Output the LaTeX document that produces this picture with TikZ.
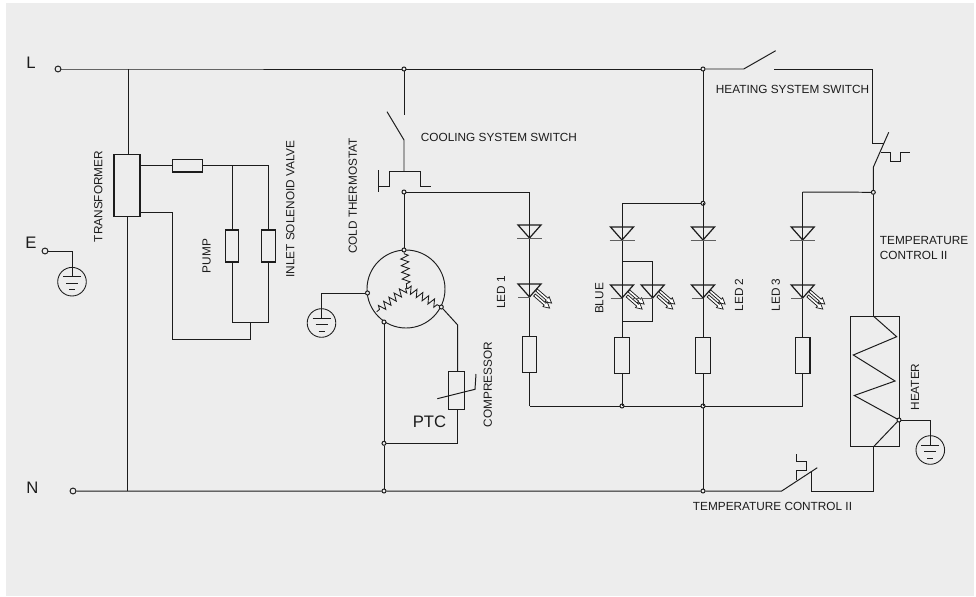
\documentclass[tikz,border=0pt]{standalone}
\usepackage{fontspec}
\setmainfont{Liberation Sans}
\usetikzlibrary{decorations.pathmorphing}
\definecolor{panelc}{HTML}{EDEDED}
\definecolor{inkc}{HTML}{1C1C1C}
\tikzset{
    wire/.style={draw=inkc, line width=0.74pt},
    term/.style={circle, draw=inkc, fill=panelc, line width=0.74pt, inner sep=0pt, minimum size=4.4pt},
    junc/.style={circle, draw=inkc, fill=panelc, line width=0.74pt, inner sep=0pt, minimum size=3pt},
    res/.style={rectangle, draw=inkc, line width=0.9pt, inner sep=0pt},
    vres/.style={res, minimum width=11pt, minimum height=27pt},
    txt/.style={text=inkc, font=\fontsize{8.85pt}{11.5pt}\selectfont, inner sep=0pt},
    big/.style={text=inkc, font=\fontsize{12.5pt}{14pt}\selectfont, inner sep=0pt},
    coil/.style={wire, line width=0.65pt, decorate, decoration={zigzag, segment length=5pt, amplitude=2.9pt, pre length=1pt, post length=1pt}},
    earth/.pic={
        \draw[wire, line width=0.65pt] (0,0) circle[radius=14.3];
        \draw[wire] (-9,-5) -- (9,-5);
        \draw[wire, line width=0.6pt] (-6,1.5) -- (6,1.5);
        \draw[wire, line width=0.6pt] (-3,8) -- (3,8);
    },
    diode/.pic={
        \draw[wire, line width=0.9pt] (-11.5,-13) -- (11.5,-13) -- (0,0) -- cycle;
        \draw[wire, draw=inkc!70] (-12.5,0) -- (12.5,0);
    },
    led/.pic={
        \draw[wire, line width=0.9pt] (-11.5,-13) -- (11.5,-13) -- (0,0) -- cycle;
        \draw[wire, draw=inkc!70] (-11.5,0) -- (0,0);
        \foreach \ax/\ay in {7/-7, 5/-2} {
            \draw[wire, line width=0.55pt, fill=white, shift={(\ax,\ay)}, rotate=-41]
                (0,-1.3) -- (14,-1.3) -- (14,-3.2) -- (20,0) -- (14,3.2) -- (14,1.3) -- (0,1.3) -- cycle;
        }
    },
}
\begin{document}
\begin{tikzpicture}[x=0.75pt, y=-0.75pt]
        \useasboundingbox (0,0) rectangle (976,597);
        \fill[panelc] (6,3) rectangle (974,596);

        % mains side
        \node[term] (L) at (58,69) {};
        \node[term] (E) at (45,251) {};
        \node[term] (N) at (73,491) {};
        \node[big] (Ltext) at (31,63) {L};
        \node[big] (Etext) at (31,243) {E};
        \node[big] (Ntext) at (32.5,488) {N};

        \coordinate (jT) at (128,69);
        \coordinate (jB) at (127.5,491);
        \node[junc] (jcool) at (404,69) {};
        \node[junc] (jled) at (703,69) {};
        \node[junc] (jblue) at (703,203.3) {};
        \node[junc] (jheat) at (873.3,192.3) {};
        \node[junc] (jmotor) at (404,192) {};
        \node[junc] (jcomp) at (384,491) {};
        \node[junc] (jret) at (703,491) {};
        \node[junc] (jbar) at (703,406) {};
        \node[junc] (jbarb) at (622,406) {};

        % transformer, pump and valve
        \node[res, minimum width=19.5pt, minimum height=47pt] (transformer) at (127,185.5) {};
        \node[res, minimum width=23pt, minimum height=9.5pt] (fuse) at (187.5,165.7) {};
        \node[vres, minimum width=10pt, minimum height=24pt] (pump) at (232,246) {};
        \node[vres, minimum width=10pt, minimum height=24pt] (valve) at (268.5,246) {};
        \coordinate (pt) at (232,165.7);
        \coordinate (vt) at (268.5,165.7);
        \coordinate (pb) at (232,322.5);
        \coordinate (vb) at (268.5,322.5);
        \coordinate (mid) at (250,322.5);
        \coordinate (low) at (172,339);
        \coordinate (txout) at (140,212.7);

        \draw[wire] (L) -- (jT) -- (jcool) -- (jled);
        \draw[wire] (jT) -- (128,154);
        \draw[wire] (127.5,217) -- (jB);
        \draw[wire] (140,165.7) -- (fuse.west);
        \draw[wire] (fuse.east) -- (vt) -- (valve.north);
        \draw[wire] (pt) -- (pump.north);
        \draw[wire] (pump.south) -- (pb) -- (vb) -- (valve.south);
        \draw[wire] (mid) |- (low) |- (txout);

        \coordinate (Ea) at (72,251);
        \coordinate (Eb) at (72,276.7);
        \draw[wire] (E) -- (Ea) -- (Eb);
        \pic at (72,281.7) {earth};

        % cooling branch
        \coordinate (swa) at (404,115);
        \coordinate (swb) at (404,140);
        \coordinate (swc) at (387,111.7);
        \coordinate (swd) at (404,171);
        \draw[wire] (jcool) -- (swa);
        \draw[wire] (swc) -- (swb) -- (swd);
        \draw[wire] (378,170) -- (378,192);
        \draw[wire] (378,186.7) -- (389,186.7) -- (389,171) -- (420,171) -- (420,186.7) -- (431,186.7);

        % compressor
        \node[circle, wire, line width=0.7pt, minimum size=58.5pt, inner sep=0pt] (motor) at (406,289) {};
        \node[junc] (mtop) at (404,250) {};
        \node[junc] (mleft) at (367.5,293) {};
        \node[junc] (mlow) at (384,322) {};
        \node[junc] (mright) at (441.3,307) {};
        \node[junc] (jptc) at (384,443.3) {};
        \coordinate (star) at (406.7,288);
        \draw[wire] (jmotor) -- (mtop);
        \draw[coil] (mtop) -- (star);
        \draw[coil] (star) -- (376.7,311.7);
        \draw[coil] (star) -- (mright);

        \node[vres, minimum width=11.5pt, minimum height=28pt] (ptc) at (456.5,390.5) {};
        \coordinate (ptca) at (457.7,325);
        \coordinate (ptcb) at (457.7,443.3);
        \draw[wire] (mlow) -- (jptc) -- (jcomp);
        \draw[wire] (mright) -- (ptca) -- (ptc.north -| ptca);
        \draw[wire] (ptc.south -| ptcb) -- (ptcb) -- (jptc);
        \draw[wire] (437.3,398.7) -- (475,389.3) -- (476,374);

        \coordinate (ma) at (321.5,293);
        \draw[wire] (mleft) -- (ma) -- (321.5,318);
        \pic at (321.5,323) {earth};

        % led columns
        \coordinate (led1t) at (529.5,192);
        \coordinate (led1b) at (529.5,406);
        \coordinate (led3t) at (802.7,192);
        \coordinate (led3b) at (802.7,406);
        \coordinate (bluet) at (622,203.3);
        \draw[wire] (jmotor) -- (led1t);
        \draw[wire] (jheat) -- (led3t);
        \draw[wire] (jblue) -- (bluet);
        \draw[wire] (led1b) -- (jbarb) -- (jbar) -- (led3b);

        \foreach \name/\x/\ya/\yb/\yc/\yt in {one/529.5/238/297/354.5/192, blu/622/240/298/355.5/203.3, two/703/240/298/355.5/203.3, thr/802.7/240/298/355.5/192} {
            \node[vres] (r\name) at (\x,\yc) {};
            \draw[wire] (\x,\yt) -- (r\name.north);
            \draw[wire] (r\name.south) -- (\x,406);
            \pic at (\x,\ya) {diode};
            \pic at (\x,\yb) {led};
        }

        \draw[wire] (622,261) -- (652.7,261) -- (652.7,321) -- (622,321);
        \draw[wire, draw=inkc!70] (633,298) -- (641,298);
        \pic at (652.7,298) {led};

        \draw[wire] (jled) -- (jblue);
        \draw[wire] (jbar) -- (jret);

        % heating branch
        \coordinate (hsa) at (743.7,69);
        \coordinate (hsb) at (775.7,50.7);
        \coordinate (hsc) at (774,69);
        \coordinate (hsd) at (872,69);
        \coordinate (hse) at (872,143.3);
        \coordinate (hsf) at (884,143.3);
        \coordinate (tca) at (888.7,132.3);
        \coordinate (tcb) at (873.3,167.3);
        \draw[wire] (jled) -- (hsa) -- (hsb);
        \draw[wire] (hsc) -- (hsd) -- (hse) -- (hsf);
        \draw[wire] (tca) -- (tcb) -- (jheat);
        \draw[wire] (880.5,152.3) -- (890.5,152.3) -- (890.5,161) -- (900,161) -- (900,152.3) -- (909.5,152.3);

        \node[rectangle, wire, minimum width=36.5pt, minimum height=98.2pt, inner sep=0pt] (heater) at (874.7,381.5) {};
        \node[junc] (jhtr) at (899,420) {};
        \coordinate (ht) at (873.3,316);
        \coordinate (hb) at (873.3,447);
        \draw[wire] (jheat) -- (ht);
        \draw[wire] (ht) -- (896.7,336.7) -- (853.3,355) -- (895,381) -- (854.3,395.5) -- (jhtr) -- (hb);

        \coordinate (hea) at (930.3,420);
        \draw[wire] (jhtr) -- (hea) -- (930.3,445);
        \pic at (930.3,450) {earth};

        % return line
        \coordinate (tcc) at (873.3,491);
        \coordinate (tcd) at (811.7,491);
        \coordinate (tce) at (811.7,471.7);
        \coordinate (tcf) at (817.3,467.7);
        \coordinate (tcg) at (781.7,491);
        \draw[wire] (N) -- (jB) -- (jcomp) -- (jret) -- (tcg) -- (tcf);
        \draw[wire] (hb) -- (tcc) -- (tcd) -- (tce);
        \draw[wire] (796.7,480) -- (796.7,470) -- (806,470) -- (806,461) -- (796.7,461) -- (796.7,454);

        % labels
        \node[txt, rotate=90] (ltransformer) at (98.3,196.5) {TRANSFORMER};
        \node[txt, rotate=90] (lpump) at (206.7,256) {PUMP};
        \node[txt, rotate=90] (lvalve) at (290.3,209) {INLET SOLENOID VALVE};
        \node[txt, rotate=90] (lcold) at (352.7,196) {COLD THERMOSTAT};
        \node[txt, anchor=west] (lcool) at (420.7,137.7) {COOLING SYSTEM SWITCH};
        \node[txt, rotate=90] (lcomp) at (487.7,384.5) {COMPRESSOR};
        \node[big] (lptc) at (429.5,421.5) {PTC};
        \node[txt, rotate=90] (lled1) at (501,292.5) {LED 1};
        \node[txt, rotate=90] (lblue) at (599.3,298.5) {BLUE};
        \node[txt, rotate=90] (lled2) at (739,295) {LED 2};
        \node[txt, rotate=90] (lled3) at (775.7,295) {LED 3};
        \node[txt, anchor=west] (lheat) at (715.7,89.3) {HEATING SYSTEM SWITCH};
        \node[txt, anchor=west, align=left] (ltemp) at (879.7,248) {TEMPERATURE\\CONTROL II};
        \node[txt, rotate=90] (lheater) at (915,387) {HEATER};
        \node[txt, anchor=west] (ltempb) at (692.7,506) {TEMPERATURE CONTROL II};
\end{tikzpicture}
\end{document}
